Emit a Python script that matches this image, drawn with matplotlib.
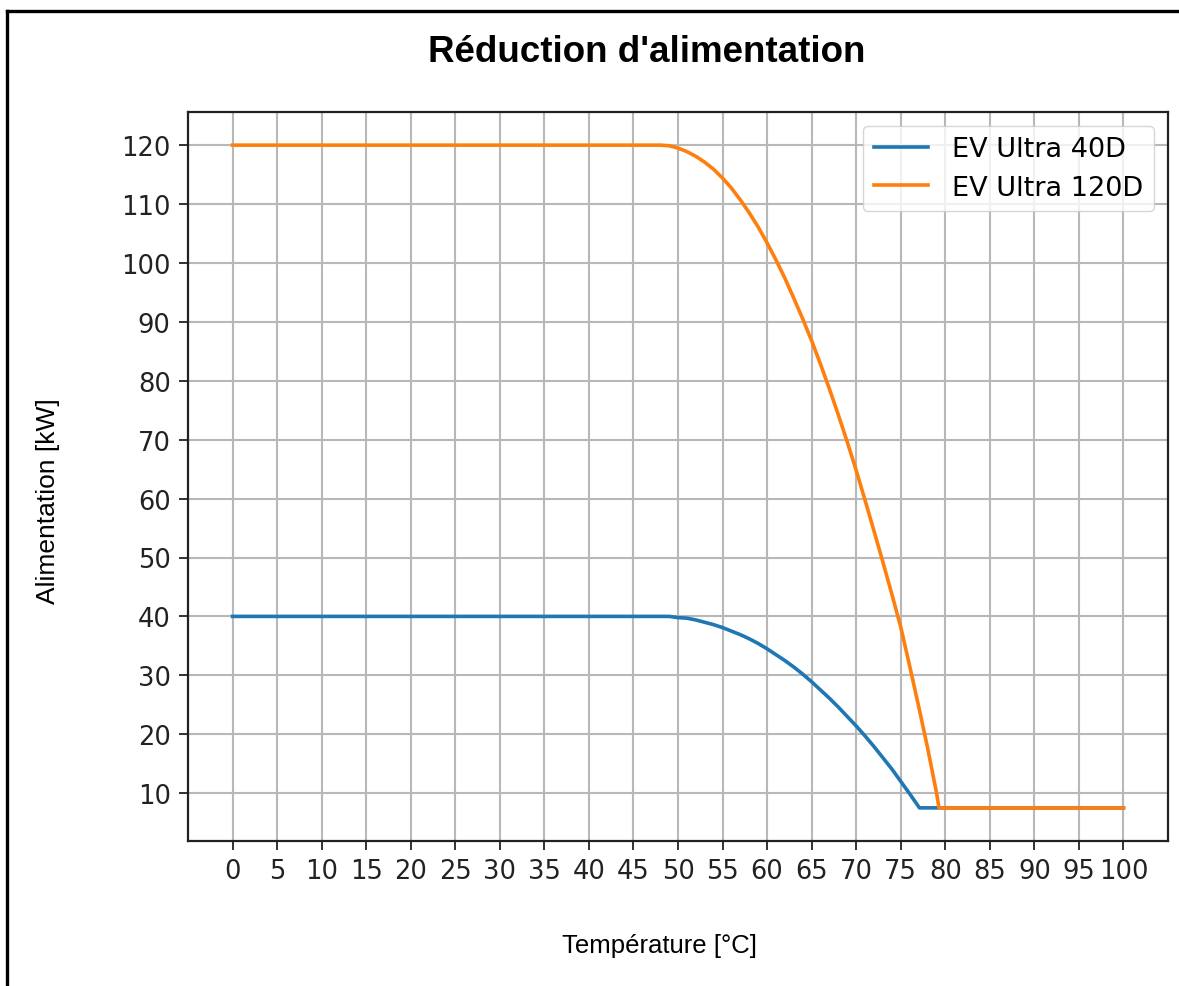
import matplotlib
matplotlib.use("Agg")
import matplotlib.pyplot as plt
from matplotlib.lines import Line2D

# Data
temp_40 = [0, 48, 49, 50, 51, 52, 53, 54, 55, 56, 57, 58, 59, 60, 61, 62, 63, 64, 65,
           66, 67, 68, 69, 70, 71, 72, 73, 74, 75, 76, 77.1, 100]
power_40 = [40, 40, 40, 39.8, 39.7, 39.4, 39.0, 38.6, 38.1, 37.5, 36.9, 36.2, 35.4, 34.5,
            33.5, 32.5, 31.4, 30.2, 28.9, 27.5, 26.1, 24.6, 23.0, 21.4, 19.7, 17.9, 16.0,
            14.1, 12.0, 9.9, 7.5, 7.5]

temp_120 = [0, 48, 49, 50, 51, 52, 53, 54, 55, 56, 57, 58, 59, 60, 61, 62, 63, 64, 65,
            66, 67, 68, 69, 70, 71, 72, 73, 74, 75, 76, 77, 78, 79, 79.3, 100]
power_120 = [120, 120, 119.9, 119.5, 118.9, 118.1, 117.1, 115.9, 114.4, 112.7, 110.7,
             108.5, 106.1, 103.4, 100.5, 97.4, 94.0, 90.5, 86.8, 82.8, 78.6, 74.2, 69.6,
             64.8, 59.7, 54.5, 49.2, 43.8, 38.2, 31.6, 24.8, 17.8, 10.2, 7.5, 7.5]

series_labels = ["EV Ultra 40D", "EV Ultra 120D"]
x_ticks = list(range(0, 101, 5))
y_ticks = list(range(10, 121, 10))

title = "Réduction d'alimentation"
xlabel = "Température [°C]"
ylabel = "Alimentation [kW]"

W, H = 1179, 987
fig = plt.figure(figsize=(W / 100, H / 100), dpi=100)
fig.patch.set_facecolor("white")

ax = fig.add_axes([188 / W, 1 - 842 / H, (1168 - 188) / W, (842 - 113) / H])
ax.plot(temp_40, power_40, color="#1f77b4", lw=2.6, label=series_labels[0])
ax.plot(temp_120, power_120, color="#ff7f0e", lw=2.6, label=series_labels[1])

ax.set_xticks(x_ticks)
ax.set_yticks(y_ticks)
ax.set_xlim(-5, 105)
ax.set_ylim(1.875, 125.625)
ax.grid(True, color="#b8b8b8", lw=1.5)
ax.set_axisbelow(True)
ax.tick_params(axis="both", labelsize=18.5, length=6.5, width=1.3, pad=6,
               colors="#222222", labelcolor="#222222")
for sp in ax.spines.values():
    sp.set_linewidth(1.6)
    sp.set_color("#222222")

leg = ax.legend(loc="upper right", fontsize=19.5, frameon=True, fancybox=True,
                framealpha=0.8, edgecolor="#cccccc", borderaxespad=0.5,
                handlelength=2.0, handletextpad=0.9, labelspacing=0.45,
                borderpad=0.4)

fig.text(647 / W, 1 - 52 / H, title, ha="center", va="center",
         fontsize=26.5, fontweight="bold", family="Liberation Sans")
fig.text(659 / W, 1 - 946 / H, xlabel, ha="center", va="center",
         fontsize=18.5, family="Liberation Sans")
fig.text(48 / W, 1 - 501 / H, ylabel, ha="center", va="center", rotation=90,
         fontsize=19, family="Liberation Sans")

# outer frame (left and top edges visible)
fig.add_artist(Line2D([7 / W, 7 / W], [0, 1 - 12 / H], transform=fig.transFigure,
                      color="black", lw=2.4))
fig.add_artist(Line2D([7 / W, 1], [1 - 12 / H, 1 - 12 / H], transform=fig.transFigure,
                      color="black", lw=2.4))

fig.savefig("out.png", dpi=100, facecolor="white")
